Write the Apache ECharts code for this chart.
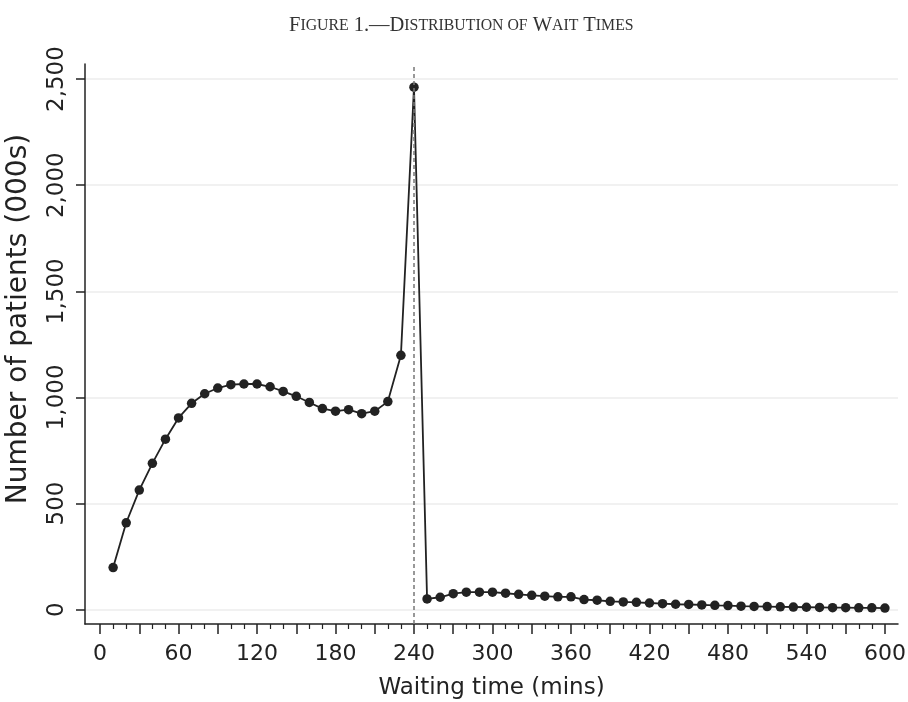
<!DOCTYPE html>
<html>
<head>
<meta charset="utf-8">
<script src="https://cdn.jsdelivr.net/npm/echarts@6/dist/echarts.min.js"></script>
<style>
  html, body { margin: 0; padding: 0; background: #fff; }
  #chart { width: 908px; height: 702px; }
</style>
</head>
<body>
<div id="chart"></div>
<script>
// waiting time bins (mins) and patients per bin (000s)
const waitMins = [10, 20, 30, 40, 50, 60, 70, 80, 90, 100, 110, 120, 130, 140, 150, 160, 170, 180, 190, 200,
  210, 220, 230, 240, 250, 260, 270, 280, 290, 300, 310, 320, 330, 340, 350, 360, 370, 380, 390, 400,
  410, 420, 430, 440, 450, 460, 470, 480, 490, 500, 510, 520, 530, 540, 550, 560, 570, 580, 590, 600];
const patients = [198, 409, 563, 689, 803, 903, 972, 1017, 1044, 1060, 1063, 1063, 1050, 1028, 1005, 976, 947, 935, 942, 923,
  935, 980, 1198, 2462, 50, 58, 75, 82, 82, 82, 77, 72, 67, 63, 60, 60, 47, 44, 39, 36,
  34, 31, 28, 25, 24, 22, 20, 19, 16, 15, 14, 13, 12, 11, 10, 9, 9, 8, 8, 7];

const xLabels = [0, 60, 120, 180, 240, 300, 360, 420, 480, 540, 600];
const xMajorTicks = [0, 30, 60, 90, 120, 150, 180, 210, 240, 270, 300, 330, 360, 390, 420, 450, 480, 510, 540, 570, 600];
const xMinorTicks = [10, 20, 40, 50, 70, 80, 100, 110, 130, 140, 160, 170, 190, 200, 220, 230, 250, 260, 280, 290,
  310, 320, 340, 350, 370, 380, 400, 410, 430, 440, 460, 470, 490, 500, 520, 530, 550, 560, 580, 590];
const yTicks = [0, 500, 1000, 1500, 2000, 2500];
const cutoff = 240;

const font = 'DejaVu Sans';
const ink = '#222222';

var chart = echarts.init(document.getElementById('chart'));
var option = {
  backgroundColor: '#ffffff',
  animation: false,
  title: {
    text: '{b|F}{s|IGURE} {b|1.—D}{s|ISTRIBUTION OF} {b|W}{s|AIT} {b|T}{s|IMES}',
    left: 284,
    top: 10,
    textStyle: {
      fontWeight: 'normal',
      rich: {
        b: { fontFamily: 'Liberation Serif', fontWeight: 'normal', fontSize: 20.5, color: '#333' },
        s: { fontFamily: 'Liberation Serif', fontWeight: 'normal', fontSize: 15.8, color: '#333' }
      }
    }
  },
  grid: {
    left: 85,
    right: 10,
    top: 64,
    bottom: 78,
    containLabel: false,
    outerBoundsMode: 'none'
  },
  xAxis: [
    {
      type: 'value',
      min: -11.5,
      max: 610,
      name: 'Waiting time (mins)',
      nameLocation: 'middle',
      nameGap: 53,
      nameTextStyle: { fontFamily: font, fontSize: 23, color: ink },
      axisLine: { show: true, onZero: false, lineStyle: { color: ink, width: 1.5 } },
      axisTick: { show: true, length: 10, customValues: xMajorTicks, lineStyle: { color: ink, width: 1.5 } },
      axisLabel: { customValues: xLabels, margin: 19, fontFamily: font, fontSize: 22, color: ink },
      splitLine: { show: false }
    },
    {
      type: 'value',
      min: -11.5,
      max: 610,
      position: 'bottom',
      axisLine: { show: false, onZero: false },
      axisTick: { show: true, length: 5, customValues: xMinorTicks, lineStyle: { color: ink, width: 1.2 } },
      axisLabel: { show: false },
      splitLine: { show: false }
    }
  ],
  yAxis: {
    type: 'value',
    min: -68,
    max: 2571,
    name: 'Number of patients (000s)',
    nameLocation: 'middle',
    nameRotate: 90,
    nameGap: 52,
    nameTextStyle: { fontFamily: font, fontSize: 28, color: ink, padding: [0, 0, 0, 50] },
    axisLine: { show: true, onZero: false, lineStyle: { color: ink, width: 1.5 } },
    axisTick: { show: true, length: 9, customValues: yTicks, lineStyle: { color: ink, width: 1.5 } },
    axisLabel: {
      customValues: yTicks,
      rotate: 90,
      margin: 16,
      fontFamily: font,
      fontSize: 23,
      color: ink,
      formatter: function (v) { return v.toLocaleString('en-US'); }
    },
    splitLine: { show: true, lineStyle: { color: '#ececec', width: 1.5 } }
  },
  series: [
    {
      type: 'line',
      data: waitMins.map(function (m, i) { return [m, patients[i]]; }),
      symbol: 'circle',
      symbolSize: 9.5,
      showSymbol: true,
      lineStyle: { color: ink, width: 1.8 },
      itemStyle: { color: ink },
      markLine: {
        silent: true,
        symbol: 'none',
        label: { show: false },
        lineStyle: { color: '#777', width: 1.5, type: [4, 3] },
        data: [{ xAxis: cutoff }]
      },
      z: 3
    }
  ]
};
chart.setOption(option);
</script>
</body>
</html>
